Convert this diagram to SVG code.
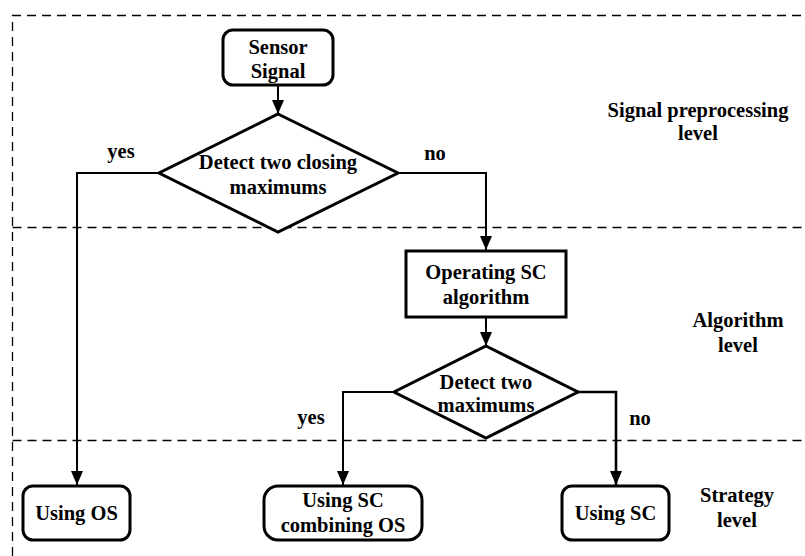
<svg xmlns="http://www.w3.org/2000/svg" width="805" height="556" viewBox="0 0 805 556">
  <defs>
    <style>
      .lane { fill: none; stroke: #000; stroke-width: 1.3; stroke-dasharray: 9 6; }
      .node { fill: #fff; stroke: #000; stroke-width: 3; }
      .edge { fill: none; stroke: #000; stroke-width: 2; }
      .edge-bold { fill: none; stroke: #000; stroke-width: 2.6; }
      text { font-family: "Liberation Serif", "Times New Roman", serif; font-weight: bold; font-size: 20.5px; fill: #000; text-anchor: middle; }
    </style>
    <marker id="arrow" viewBox="0 0 14 12" refX="14" refY="6" markerWidth="14" markerHeight="12" markerUnits="userSpaceOnUse" orient="auto">
      <path d="M0,0 L14,6 L0,12 Z" fill="#000"/>
    </marker>
  </defs>

  <rect width="805" height="556" fill="#fff"/>

  <!-- swim-lane separators -->
  <g id="lanes">
    <path class="lane" d="M12.5,556 V15.5 H805"/>
    <path class="lane" d="M12.5,227.5 H805"/>
    <path class="lane" d="M12.5,440.5 H805"/>
  </g>

  <!-- connectors and branch labels -->
  <g id="connectors">
    <path class="edge" d="M278,85 V114" marker-end="url(#arrow)"/>
    <path class="edge" d="M159,173 H77 V485" marker-end="url(#arrow)"/>
    <path class="edge" d="M398,173 H486 V250" marker-end="url(#arrow)"/>
    <path class="edge" d="M486,317 V346" marker-end="url(#arrow)"/>
    <path class="edge" d="M394,392 H343 V485" marker-end="url(#arrow)"/>
    <path class="edge-bold" d="M578,392 H616 V485" marker-end="url(#arrow)"/>
    <text x="121" y="158">yes</text>
    <text x="435" y="160">no</text>
    <text x="311" y="424">yes</text>
    <text x="640" y="425">no</text>
  </g>

  <g id="sensor-signal">
    <rect class="node" x="223" y="30" width="110" height="55" rx="10"/>
    <text x="278" y="54">Sensor</text>
    <text x="278" y="78">Signal</text>
  </g>

  <g id="detect-closing">
    <polygon class="node" points="278,114 398,173 278,232 159,173"/>
    <text x="278" y="169">Detect two closing</text>
    <text x="278" y="194">maximums</text>
  </g>

  <g id="operating-sc">
    <rect class="node" x="406" y="251" width="160" height="66"/>
    <text x="486" y="279">Operating SC</text>
    <text x="486" y="304">algorithm</text>
  </g>

  <g id="detect-two">
    <polygon class="node" points="486,346 578,392 486,438 394,392"/>
    <text x="486" y="389">Detect two</text>
    <text x="486" y="412">maximums</text>
  </g>

  <g id="using-os">
    <rect class="node" x="23" y="486" width="107" height="54" rx="10"/>
    <text x="76.5" y="520">Using OS</text>
  </g>

  <g id="using-sc-combining-os">
    <rect class="node" x="264" y="486" width="158" height="54" rx="14"/>
    <text x="343" y="507">Using SC</text>
    <text x="343" y="532">combining OS</text>
  </g>

  <g id="using-sc">
    <rect class="node" x="562" y="486" width="107" height="54" rx="10"/>
    <text x="615.5" y="520">Using SC</text>
  </g>

  <!-- level captions -->
  <g id="level-labels">
    <text x="698" y="117">Signal preprocessing</text>
    <text x="698" y="140">level</text>
    <text x="738" y="327">Algorithm</text>
    <text x="738" y="352">level</text>
    <text x="737" y="502">Strategy</text>
    <text x="737" y="527">level</text>
  </g>
</svg>
